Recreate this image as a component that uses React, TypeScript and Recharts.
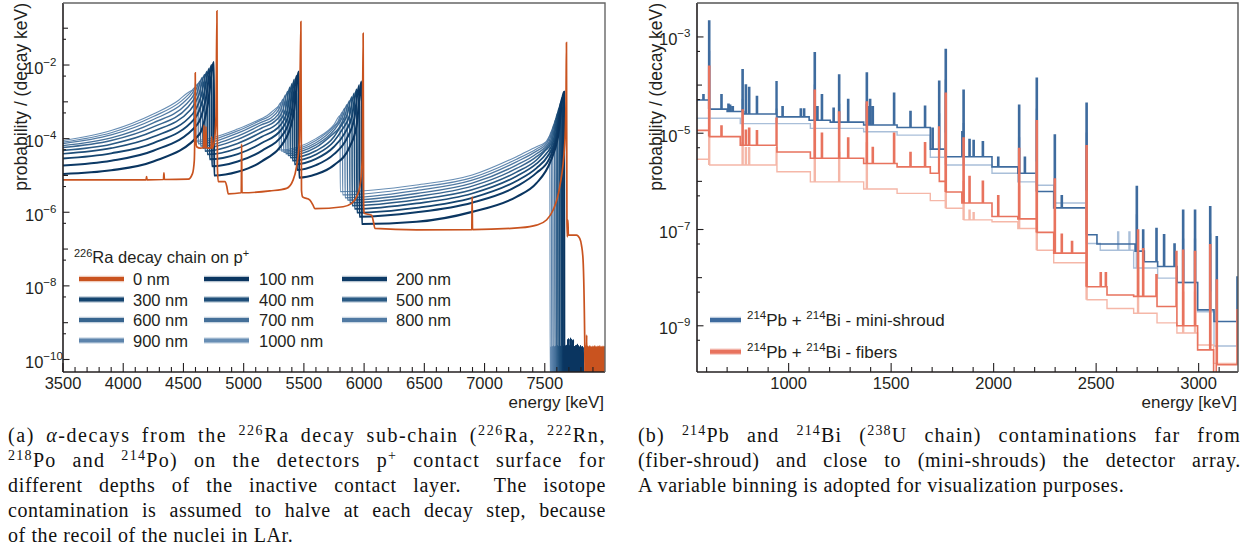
import React from 'react';
import { LineChart, Line, XAxis, YAxis } from 'recharts';

type Pt = [number, number]; // [energy keV, log10(probability / (decay keV))]

// ================= Panel (a): 226Ra chain alphas on p+ surface =================
const depthLabels = ['0 nm', '100 nm', '200 nm', '300 nm', '400 nm', '500 nm', '600 nm', '700 nm', '800 nm', '900 nm', '1000 nm'];

const d0: Pt[] = [[3500,-5.12],[4190,-5.12],[4194,-5.03],[4198,-5.12],[4334,-5.11],[4338,-4.93],[4342,-5.11],[4540,-5.10],[4575,-4.95],[4590,-4.60],[4595,-3.60],[4598,-2.21],[4601,-3.90],[4610,-4.22],[4640,-4.26],[4666,-4.24],[4670,-3.63],[4674,-4.24],[4683,-4.25],[4687,-3.67],[4691,-4.25],[4730,-4.26],[4734,-3.95],[4738,-4.26],[4755,-4.10],[4770,-3.40],[4778,-0.53],[4782,-4.80],[4789,-5.17],[4844,-5.17],[4860,-5.30],[4872,-5.50],[4980,-5.47],[4983,-4.15],[4986,-5.47],[5218,-5.42],[5356,-5.35],[5411,-5.12],[5439,-4.76],[5462,-4.10],[5475,-0.82],[5480,-5.40],[5489,-5.58],[5550,-5.67],[5575,-5.80],[5591,-5.90],[5826,-5.85],[5896,-5.76],[5937,-5.58],[5965,-5.30],[5984,-4.60],[5992,-1.14],[5996,-5.80],[6000,-6.03],[6062,-6.08],[6080,-6.30],[6089,-6.44],[6435,-6.48],[6894,-6.47],[6897,-5.58],[6900,-6.47],[7300,-6.42],[7431,-6.35],[7514,-6.21],[7569,-5.94],[7624,-5.31],[7666,-4.13],[7676,-3.00],[7680,-1.39],[7684,-6.20],[7687,-6.67],[7692,-6.21],[7696,-6.62],[7763,-6.62],[7790,-6.71],[7805,-6.90],[7818,-7.30],[7832,-9.56]];

const d100: Pt[] = [[3500,-4.96],[3900,-4.86],[4250,-4.62],[4633,-3.88],[4703,-3.05],[4753,-1.92],[4755,-5.00],[4950,-4.90],[5150,-4.62],[5358,-3.95],[5418,-3.25],[5458,-2.18],[5460,-5.06],[5600,-4.97],[5750,-4.72],[5879,-4.23],[5939,-3.62],[5979,-2.45],[5981,-6.32],[6435,-6.26],[6897,-5.99],[7265,-5.58],[7431,-5.21],[7545,-4.64],[7610,-3.95],[7660,-2.73]];
const d200: Pt[] = [[3500,-4.73],[3900,-4.60],[4250,-4.33],[4614,-3.62],[4684,-2.95],[4734,-2.00],[4736,-4.75],[4950,-4.62],[5150,-4.33],[5340,-3.82],[5400,-3.24],[5440,-2.29],[5442,-4.85],[5600,-4.72],[5750,-4.42],[5859,-3.98],[5919,-3.45],[5959,-2.55],[5961,-6.12],[6435,-6.00],[6897,-5.74],[7265,-5.30],[7431,-4.93],[7537,-4.55],[7597,-4.00],[7647,-2.88]];
const d300: Pt[] = [[3500,-4.54],[3900,-4.40],[4250,-4.12],[4595,-3.45],[4665,-2.88],[4715,-2.09],[4717,-4.56],[4950,-4.42],[5150,-4.12],[5321,-3.72],[5381,-3.24],[5421,-2.39],[5423,-4.70],[5600,-4.55],[5750,-4.22],[5839,-3.85],[5899,-3.40],[5939,-2.66],[5941,-6.01],[6435,-5.88],[6897,-5.61],[7265,-5.15],[7431,-4.80],[7524,-4.48],[7584,-4.05],[7634,-3.02]];
const d400: Pt[] = [[3500,-4.41],[3900,-4.26],[4250,-3.95],[4576,-3.33],[4646,-2.85],[4696,-2.17],[4698,-4.43],[4950,-4.26],[5150,-3.95],[5303,-3.64],[5363,-3.23],[5403,-2.50],[5405,-4.60],[5600,-4.43],[5750,-4.07],[5819,-3.75],[5879,-3.37],[5919,-2.76],[5921,-5.91],[6435,-5.76],[6897,-5.49],[7265,-5.02],[7431,-4.68],[7510,-4.42],[7570,-4.08],[7620,-3.17]];
const d500: Pt[] = [[3500,-4.32],[3900,-4.15],[4250,-3.80],[4557,-3.22],[4627,-2.82],[4677,-2.26],[4679,-4.34],[4950,-4.13],[5150,-3.82],[5285,-3.57],[5345,-3.23],[5385,-2.60],[5387,-4.52],[5600,-4.33],[5750,-3.95],[5799,-3.70],[5859,-3.36],[5899,-2.86],[5901,-5.82],[6435,-5.66],[6897,-5.39],[7265,-4.91],[7431,-4.58],[7497,-4.35],[7557,-4.10],[7607,-3.31]];
const d600: Pt[] = [[3500,-4.24],[3900,-4.05],[4250,-3.68],[4538,-3.14],[4608,-2.80],[4658,-2.34],[4660,-4.26],[4950,-4.02],[5150,-3.71],[5266,-3.51],[5326,-3.23],[5366,-2.71],[5368,-4.46],[5600,-4.24],[5750,-3.85],[5780,-3.76],[5840,-3.38],[5880,-2.97],[5882,-5.74],[6435,-5.57],[6897,-5.29],[7265,-4.81],[7431,-4.49],[7544,-4.11],[7594,-3.46]];
const d700: Pt[] = [[3500,-4.19],[3900,-3.98],[4250,-3.57],[4520,-3.07],[4590,-2.79],[4640,-2.43],[4642,-4.20],[4950,-3.93],[5150,-3.62],[5248,-3.47],[5308,-3.22],[5348,-2.81],[5350,-4.41],[5600,-4.17],[5750,-3.77],[5820,-3.42],[5860,-3.07],[5862,-5.67],[6435,-5.49],[6897,-5.21],[7265,-4.72],[7431,-4.41],[7531,-4.12],[7581,-3.60]];
const d800: Pt[] = [[3500,-4.135],[3900,-3.90],[4250,-3.48],[4501,-3.02],[4571,-2.78],[4621,-2.51],[4623,-4.14],[4950,-3.85],[5150,-3.55],[5230,-3.43],[5290,-3.22],[5330,-2.92],[5332,-4.37],[5600,-4.11],[5750,-3.70],[5800,-3.48],[5840,-3.17],[5842,-5.61],[6435,-5.41],[6897,-5.13],[7265,-4.63],[7431,-4.34],[7517,-4.13],[7567,-3.75]];
const d900: Pt[] = [[3500,-4.095],[3900,-3.84],[4250,-3.40],[4482,-2.98],[4552,-2.77],[4602,-2.60],[4604,-4.09],[4950,-3.79],[5150,-3.49],[5211,-3.40],[5271,-3.22],[5311,-3.02],[5313,-4.34],[5600,-4.05],[5750,-3.66],[5780,-3.55],[5820,-3.28],[5822,-5.53],[6435,-5.33],[6897,-5.06],[7265,-4.56],[7431,-4.28],[7504,-4.13],[7554,-3.89]];
const d1000: Pt[] = [[3500,-4.05],[3900,-3.78],[4250,-3.33],[4463,-2.95],[4533,-2.76],[4583,-2.68],[4585,-4.05],[4950,-3.74],[5150,-3.45],[5193,-3.38],[5253,-3.22],[5293,-3.13],[5295,-4.31],[5600,-4.00],[5750,-3.62],[5800,-3.38],[5802,-5.44],[6435,-5.26],[6897,-4.99],[7265,-4.49],[7431,-4.22],[7491,-4.13],[7541,-4.04]];

// counting noise at the bottom of the spectra, past the 214Po edge
const blueNoise: Pt[] = [[7546,-10.8],[7550,-9.66],[7554,-10.8],[7558,-9.64],[7562,-10.8],[7566,-9.65],[7570,-10.8],[7574,-9.63],[7578,-10.8],[7582,-9.66],[7586,-10.8],[7590,-9.64],[7594,-10.8],[7598,-9.65],[7602,-10.8],[7606,-9.63],[7610,-10.8],[7614,-9.66],[7618,-10.8],[7622,-9.64],[7626,-10.8],[7630,-9.65],[7634,-10.8],[7638,-9.63],[7642,-10.8],[7646,-9.64],[7650,-10.8],[7654,-9.66],[7658,-10.8],[7662,-9.64],[7666,-10.8],[7670,-9.65],[7674,-10.8],[7678,-9.63],[7682,-10.8],[7686,-9.64],[7690,-10.8],[7695,-9.45],[7700,-10.8],[7705,-9.65],[7710,-10.8],[7715,-9.43],[7720,-10.8],[7725,-9.64],[7730,-10.8],[7735,-9.48],[7740,-10.8],[7746,-9.66],[7752,-10.8],[7758,-9.64],[7764,-10.8],[7770,-9.60],[7776,-10.8],[7782,-9.65],[7790,-10.8],[7798,-9.64],[7806,-10.8],[7814,-9.66],[7822,-10.8]];
const orangeNoise: Pt[] = [[7836,-10.8],[7840,-9.64],[7844,-10.8],[7848,-9.34],[7852,-10.8],[7856,-9.64],[7860,-10.8],[7864,-9.65],[7868,-10.8],[7872,-9.63],[7876,-10.8],[7880,-9.64],[7884,-10.8],[7888,-9.66],[7892,-10.8],[7896,-9.64],[7900,-10.8],[7904,-9.65],[7908,-10.8],[7912,-9.63],[7916,-10.8],[7920,-9.64],[7924,-10.8],[7928,-9.66],[7932,-10.8],[7936,-9.64],[7940,-10.8],[7944,-9.65],[7948,-10.8],[7952,-9.63],[7956,-10.8],[7960,-9.64],[7964,-10.8],[7968,-9.66],[7972,-10.8],[7976,-9.64],[7980,-10.8],[7984,-9.65],[7988,-10.8],[7992,-9.64],[7996,-10.8],[8000,-9.64]];

const depthSeries: Pt[][] = [d0, d100, d200, d300, d400, d500, d600, d700, d800, d900, d1000];
const depthColors = ['#C9531F', '#0A3560', '#0D3A66', '#14446F', '#1E4E79', '#2A5A84', '#38658F', '#457099', '#517AA3', '#5D84AC', '#688EB4'];
const depthWidths = [1.7, 2.1, 2.0, 1.9, 1.7, 1.6, 1.5, 1.4, 1.3, 1.2, 1.1];

const xMajorA = [3500, 4000, 4500, 5000, 5500, 6000, 6500, 7000, 7500];
const xMinorA = [3600,3700,3800,3900,4100,4200,4300,4400,4600,4700,4800,4900,5100,5200,5300,5400,5600,5700,5800,5900,6100,6200,6300,6400,6600,6700,6800,6900,7100,7200,7300,7400,7600,7700,7800,7900];
const yTicksA = [1e-10,5e-10,1e-9,5e-9,1e-8,5e-8,1e-7,5e-7,1e-6,5e-6,1e-5,5e-5,1e-4,5e-4,1e-3,5e-3,1e-2,5e-2,1e-1];
const yLabelledA = [-10, -8, -6, -4, -2];

// ================= Panel (b): 214Pb + 214Bi =================
const miniBase: Pt[] = [[553,-4.31],[610,-4.50],[700,-4.55],[780,-4.60],[943,-4.66],[1100,-4.73],[1203,-4.77],[1366,-4.83],[1529,-4.88],[1691,-5.33],[1764,-5.49],[1992,-5.70],[2118,-5.83],[2208,-6.21],[2293,-6.55],[2451,-7.11],[2504,-7.30],[2690,-7.45],[2735,-7.67],[2800,-7.77],[2895,-8.10],[2995,-8.67],[3075,-8.91]];
const miniPeaks: Pt[] = [[582,-4.20],[610,-2.67],[670,-4.20],[704,-4.40],[712,-4.42],[725,-4.45],[773,-3.68],[789,-4.00],[805,-4.05],[843,-4.24],[939,-3.93],[968,-4.45],[1057,-4.50],[1073,-4.50],[1125,-3.33],[1138,-4.45],[1160,-4.20],[1217,-4.48],[1244,-3.79],[1288,-4.30],[1379,-3.75],[1387,-4.45],[1395,-4.30],[1408,-4.45],[1512,-4.17],[1592,-4.55],[1663,-4.44],[1700,-4.90],[1732,-3.92],[1764,-3.26],[1845,-4.97],[1851,-4.11],[1880,-5.13],[1900,-5.15],[1945,-5.18],[2020,-5.50],[2122,-4.42],[2150,-5.50],[2208,-3.86],[2296,-5.04],[2330,-6.30],[2451,-4.38],[2696,-6.11],[2727,-7.01],[2792,-6.98],[2829,-7.11],[2880,-7.30],[2922,-6.60],[2980,-6.60],[3054,-6.53],[3086,-7.15],[3187,-7.99]];
const miniLightBase: Pt[] = [[553,-4.69],[764,-4.80],[1106,-4.90],[1366,-4.97],[1529,-5.04],[1691,-5.50],[1764,-5.66],[1992,-5.83],[2118,-6.01],[2208,-6.08],[2293,-6.45],[2451,-7.29],[2520,-7.43],[2683,-7.80],[2800,-8.01],[2895,-8.10],[2995,-8.71],[3075,-9.42]];
const miniLightPeaks: Pt[] = [[610,-3.30],[773,-4.30],[939,-4.50],[1125,-4.00],[1244,-4.40],[1379,-4.40],[1732,-4.60],[1764,-3.90],[1851,-4.80],[2122,-5.10],[2208,-4.50],[2451,-5.00],[2605,-7.05],[2660,-7.05],[2696,-6.70],[2922,-7.20],[2980,-7.20],[3054,-7.10],[3187,-8.80]];
const fibBase: Pt[] = [[553,-4.94],[610,-5.07],[764,-5.25],[943,-5.39],[1106,-5.52],[1366,-5.63],[1529,-5.70],[1691,-5.83],[1735,-6.00],[1764,-6.22],[1845,-6.45],[1992,-6.73],[2118,-6.78],[2208,-7.06],[2293,-7.49],[2451,-8.19],[2553,-8.36],[2683,-8.39],[2797,-8.60],[2894,-9.00],[2995,-9.50],[3073,-10.5],[3086,-9.81]];
const fibPeaks: Pt[] = [[610,-3.61],[670,-4.85],[773,-4.52],[789,-4.94],[805,-4.90],[843,-4.95],[939,-4.69],[1125,-4.11],[1160,-5.00],[1244,-4.56],[1288,-5.10],[1379,-4.35],[1408,-5.30],[1512,-5.00],[1592,-5.40],[1663,-5.20],[1732,-4.87],[1764,-4.17],[1851,-5.10],[1880,-5.90],[1945,-6.00],[2020,-6.30],[2122,-5.32],[2208,-4.74],[2296,-5.95],[2330,-7.10],[2380,-7.25],[2451,-5.26],[2520,-7.90],[2545,-7.90],[2702,-7.01],[2727,-7.40],[2792,-7.94],[2890,-7.46],[2922,-7.43],[2980,-7.46],[3054,-7.32],[3086,-8.05],[3187,-8.67]];
const fibLightBase: Pt[] = [[553,-5.54],[610,-5.66],[943,-5.80],[1106,-6.01],[1366,-6.16],[1529,-6.25],[1691,-6.40],[1764,-6.56],[1851,-6.80],[1992,-6.84],[2118,-6.98],[2208,-7.43],[2293,-7.69],[2451,-8.46],[2553,-8.64],[2683,-8.74],[2797,-8.94],[2894,-9.15],[2995,-9.40],[3073,-9.78]];
const fibLightPeaks: Pt[] = [[610,-4.50],[773,-5.20],[789,-5.30],[805,-5.30],[939,-5.30],[1125,-4.90],[1244,-5.40],[1379,-5.20],[1764,-5.00],[1851,-6.00],[1880,-6.60],[1900,-6.65],[2122,-6.10],[2208,-5.60],[2451,-6.20],[2702,-7.80],[2922,-8.30],[2980,-8.30],[3054,-8.30]];
const peakBinKeV = 5;
const xEndB = 3192;

const xMajorB = [1000, 1500, 2000, 2500, 3000];
const xMinorB = [600,700,800,900,1100,1200,1300,1400,1600,1700,1800,1900,2100,2200,2300,2400,2600,2700,2800,2900,3100];
const yTicksB = [5e-10,1e-9,5e-9,1e-8,5e-8,1e-7,5e-7,1e-6,5e-6,1e-5,5e-5,1e-4,5e-4,1e-3];
const yLabelledB = [-9, -7, -5, -3];

// ================= helpers =================
const FONT = '"Liberation Sans", Arial, Helvetica, sans-serif';
const SERIF = '"Liberation Serif", "Times New Roman", serif';
const INK = '#231f20';

const toPts = (arr: Pt[]) => arr.map(([e, l]) => ({ e, p: Math.pow(10, l) }));
const withTail = (arr: Pt[], tail: Pt[]) => {
  const last = arr[arr.length - 1][0];
  return [...arr, ...tail.filter(([e]) => e > last + 1)];
};
const buildSteps = (base: Pt[], peaks: Pt[]) => {
  const levelAt = (e: number) => {
    let l = base[0][1];
    for (const [be, bl] of base) { if (be <= e) l = bl; else break; }
    return l;
  };
  const pts: { e: number; p: number; k: number }[] = base.map(([e, l]) => ({ e, p: Math.pow(10, l), k: 0 }));
  for (const [pe, pl] of peaks) {
    pts.push({ e: pe, p: Math.pow(10, pl), k: 1 });
    pts.push({ e: pe + peakBinKeV, p: Math.pow(10, levelAt(pe + peakBinKeV)), k: 2 });
  }
  pts.sort((a, b) => a.e - b.e || a.k - b.k);
  const lastE = pts[pts.length - 1].e;
  if (lastE < xEndB) pts.push({ e: xEndB, p: Math.pow(10, levelAt(xEndB)), k: 3 });
  return pts.map(({ e, p }) => ({ e, p }));
};

const makeYTick = (labelled: number[]) => (props: any) => {
  const { x, y, payload } = props;
  const v = Number(payload.value);
  const lg = Math.log10(v);
  const exp = Math.round(lg);
  const decade = Math.abs(lg - exp) < 1e-6;
  const lab = decade && labelled.includes(exp);
  const len = lab ? 6.5 : decade ? 5 : 3;
  return (
    <g>
      <line x1={x} x2={x + len} y1={y} y2={y} stroke={INK} strokeWidth={1.1} />
      {lab && (
        <text x={x - 38} y={y + 8.5} fontSize={16.5} fontFamily={FONT} fill={INK}>
          10<tspan dy={-8} fontSize={11.5}>{'\u2212' + String(-exp)}</tspan>
        </text>
      )}
    </g>
  );
};
const makeXTick = (majors: number[]) => (props: any) => {
  const { x, y, payload } = props;
  const major = majors.includes(Number(payload.value));
  const len = major ? 9 : 5;
  return (
    <g>
      <line x1={x} x2={x} y1={y} y2={y - len} stroke={INK} strokeWidth={1.1} />
      {major && (
        <text x={x} y={y + 17} textAnchor="middle" fontSize={16.5} fontFamily={FONT} fill={INK}>
          {payload.value}
        </text>
      )}
    </g>
  );
};

const yTickA = makeYTick(yLabelledA);
const yTickB = makeYTick(yLabelledB);
const xTickA = makeXTick(xMajorA);
const xTickB = makeXTick(xMajorB);

const Sup = ({ children }: { children: React.ReactNode }) => (
  <span style={{ fontSize: '0.7em', position: 'relative', top: '-0.5em', lineHeight: 0 }}>{children}</span>
);

const capA: React.ReactNode[] = [
  <>(a) <i>α</i>-decays from the <Sup>226</Sup>Ra decay sub-chain (<Sup>226</Sup>Ra, <Sup>222</Sup>Rn,</>,
  <><Sup>218</Sup>Po and <Sup>214</Sup>Po) on the detectors p<Sup>+</Sup> contact surface for</>,
  <>different depths of the inactive contact layer. &nbsp;The isotope</>,
  <>contamination is assumed to halve at each decay step, because</>,
  <>of the recoil of the nuclei in LAr.</>,
];
const capB: React.ReactNode[] = [
  <>(b) <Sup>214</Sup>Pb and <Sup>214</Sup>Bi (<Sup>238</Sup>U chain) contaminations far from</>,
  <>(fiber-shroud) and close to (mini-shrouds) the detector array.</>,
  <>A variable binning is adopted for visualization purposes.</>,
];
const capSpacingA = [1.6, 1.3, 0.7, 0.5, 0.6];
const capSpacingB = [1.2, 0.7, 0.6];

const Caption = ({ lines, left, width, spacing }: { lines: React.ReactNode[]; left: number; width: number; spacing: number[] }) => (
  <>
    {lines.map((ln, i) => (
      <div
        key={i}
        style={{
          position: 'absolute', left, top: 423 + 25 * i, width, height: 24, lineHeight: '24px',
          fontFamily: SERIF, fontSize: 20, letterSpacing: `${spacing[i]}px`, color: '#111', whiteSpace: 'nowrap',
          textAlign: 'justify', textAlignLast: i === lines.length - 1 ? 'left' : 'justify',
        }}
      >
        {ln}
      </div>
    ))}
  </>
);

const legendRowsA = [[0, 1, 2], [3, 4, 5], [6, 7, 8], [9, 10]];
const legendColX = [79, 204, 342];
const legendTextX = [133, 259, 396];
const legendRowY = [279, 299.5, 320, 340.5];

export default function App() {
  const drawOrderA = [10, 9, 8, 7, 6, 5, 4, 3, 2, 1, 0];
  const seriesB = [
    { key: 'miniLight', data: buildSteps(miniLightBase, miniLightPeaks), color: '#A9BFD9', w: 1.4 },
    { key: 'mini', data: buildSteps(miniBase, miniPeaks), color: '#3E6B9E', w: 1.6 },
    { key: 'fibLight', data: buildSteps(fibLightBase, fibLightPeaks), color: '#F5B7A8', w: 1.4 },
    { key: 'fib', data: buildSteps(fibBase, fibPeaks), color: '#E8735E', w: 1.6 },
  ];
  return (
    <div style={{ position: 'absolute', left: 0, top: 0, width: 1250, height: 550, background: '#fff', overflow: 'hidden' }}>
      <div style={{ position: 'absolute', left: 0, top: 0 }}>
        <LineChart width={620} height={410} margin={{ top: 3, right: 15, bottom: 0, left: 0 }}>
          <XAxis type="number" dataKey="e" domain={[3500, 8000]} allowDataOverflow ticks={[...xMajorA, ...xMinorA]} interval={0}
            tickSize={0} tickMargin={0} tickLine={false} tick={xTickA} axisLine={{ stroke: INK, strokeWidth: 1.6 }} height={38} />
          <YAxis type="number" scale="log" domain={[Math.pow(10, -10.34), Math.pow(10, -0.315)]} allowDataOverflow ticks={yTicksA} interval={0}
            tickSize={0} tickMargin={0} tickLine={false} tick={yTickA} axisLine={{ stroke: INK, strokeWidth: 1.6 }} width={63} />
          {drawOrderA.map((i) => (
            <Line key={depthLabels[i]} name={depthLabels[i]} data={toPts(withTail(depthSeries[i], i === 0 ? orangeNoise : blueNoise))}
              dataKey="p" type="monotone" stroke={depthColors[i]} strokeWidth={depthWidths[i]} dot={false} activeDot={false}
              isAnimationActive={false} />
          ))}
        </LineChart>
      </div>
      <div style={{ position: 'absolute', left: 634, top: 0 }}>
        <LineChart width={620} height={410} margin={{ top: 3, right: 16, bottom: 0, left: 0 }}>
          <XAxis type="number" dataKey="e" domain={[553, xEndB]} allowDataOverflow ticks={[...xMajorB, ...xMinorB]} interval={0}
            tickSize={0} tickMargin={0} tickLine={false} tick={xTickB} axisLine={{ stroke: INK, strokeWidth: 1.6 }} height={38} />
          <YAxis type="number" scale="log" domain={[Math.pow(10, -9.96), Math.pow(10, -2.295)]} allowDataOverflow ticks={yTicksB} interval={0}
            tickSize={0} tickMargin={0} tickLine={false} tick={yTickB} axisLine={{ stroke: INK, strokeWidth: 1.6 }} width={63} />
          {seriesB.map((s) => (
            <Line key={s.key} data={s.data} dataKey="p" type="stepAfter" stroke={s.color} strokeWidth={s.w} dot={false}
              activeDot={false} isAnimationActive={false} />
          ))}
        </LineChart>
      </div>

      <svg width={1250} height={550} style={{ position: 'absolute', left: 0, top: 0, pointerEvents: 'none' }} fontFamily={FONT}>
        <polyline points="63,3 605,3 605,372" fill="none" stroke="#666" strokeWidth={1.4} />
        <polyline points="697,3 1238,3 1238,372" fill="none" stroke="#555" strokeWidth={1.4} />

        <text transform="translate(27,3) rotate(-90)" textAnchor="end" fontSize={17.5} fill={INK}>probability / (decay keV)</text>
        <text transform="translate(662,3) rotate(-90)" textAnchor="end" fontSize={17.5} fill={INK}>probability / (decay keV)</text>
        <text x={604} y={408} textAnchor="end" fontSize={17} fill={INK}>energy [keV]</text>
        <text x={1237} y={408} textAnchor="end" fontSize={17} fill={INK}>energy [keV]</text>

        <text x={74} y={263} fontSize={16.5} fill={INK}>
          <tspan fontSize={11} dy={-6.5}>226</tspan>
          <tspan dy={6.5}>Ra decay chain on p</tspan>
          <tspan fontSize={11} dy={-6.5}>+</tspan>
        </text>
        {legendRowsA.map((row, r) =>
          row.map((idx, c) => (
            <g key={idx}>
              <line x1={legendColX[c]} x2={legendColX[c] + 45} y1={legendRowY[r]} y2={legendRowY[r]} stroke={depthColors[idx]} strokeOpacity={0.3} strokeWidth={6.5} />
              <line x1={legendColX[c]} x2={legendColX[c] + 45} y1={legendRowY[r]} y2={legendRowY[r]} stroke={depthColors[idx]} strokeWidth={4} />
              <text x={legendTextX[c]} y={legendRowY[r] + 6} fontSize={16.5} fill={INK}>{depthLabels[idx]}</text>
            </g>
          ))
        )}

        <line x1={710} x2={741} y1={320} y2={320} stroke="#3E6B9E" strokeOpacity={0.35} strokeWidth={6.5} />
        <line x1={710} x2={741} y1={320} y2={320} stroke="#3E6B9E" strokeWidth={4} />
        <text x={747} y={326} fontSize={17} fill={INK}>
          <tspan fontSize={11.5} dy={-7}>214</tspan><tspan dy={7}>Pb + </tspan>
          <tspan fontSize={11.5} dy={-7}>214</tspan><tspan dy={7}>Bi - mini-shroud</tspan>
        </text>
        <line x1={710} x2={741} y1={351.7} y2={351.7} stroke="#E8735E" strokeOpacity={0.35} strokeWidth={6.5} />
        <line x1={710} x2={741} y1={351.7} y2={351.7} stroke="#E8735E" strokeWidth={4} />
        <text x={747} y={357.5} fontSize={17} fill={INK}>
          <tspan fontSize={11.5} dy={-7}>214</tspan><tspan dy={7}>Pb + </tspan>
          <tspan fontSize={11.5} dy={-7}>214</tspan><tspan dy={7}>Bi - fibers</tspan>
        </text>
      </svg>

      <Caption lines={capA} left={8} width={598} spacing={capSpacingA} />
      <Caption lines={capB} left={638} width={603} spacing={capSpacingB} />
    </div>
  );
}
